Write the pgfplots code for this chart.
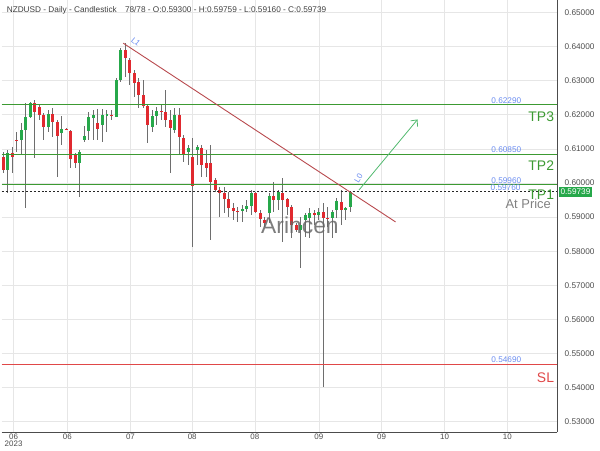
\documentclass[border=0pt]{standalone}
\usepackage{pgfplots}
\pgfplotsset{compat=1.18}
\usepackage{pgfplotstable}
\usetikzlibrary{arrows.meta}
\usepackage{fontspec}
\setmainfont{Liberation Sans}
\setsansfont{Liberation Sans}
\definecolor{cgreen}{HTML}{26A84A}
\definecolor{cred}{HTML}{E0292F}
\definecolor{tpgreen}{HTML}{3C9A32}
\definecolor{lblue}{HTML}{6A8CF0}
\definecolor{trend}{HTML}{B84A4E}
\definecolor{wick}{HTML}{6E6E6E}
\definecolor{gridc}{HTML}{E6E6E6}
\definecolor{slred}{HTML}{E04848}

\pgfplotstableread{
i o h l c
1 0.60380 0.60965 0.59708 0.60877
4 0.61257 0.61754 0.60819 0.61550
5 0.61550 0.62339 0.59269 0.61930
6 0.61930 0.62368 0.61901 0.62339
10 0.61638 0.62135 0.61491 0.62018
13 0.61462 0.61959 0.61111 0.61579
17 0.60585 0.60965 0.59591 0.60906
18 0.61257 0.61667 0.61199 0.61374
19 0.61521 0.62076 0.61257 0.61930
20 0.61901 0.62135 0.61257 0.61988
22 0.61696 0.62164 0.61199 0.61988
23 0.61988 0.62135 0.61491 0.62018
25 0.61930 0.63070 0.61930 0.63012
26 0.63012 0.63947 0.62953 0.63889
33 0.61638 0.62135 0.61491 0.61959
34 0.61959 0.62222 0.61696 0.62105
38 0.61550 0.62193 0.61462 0.61988
41 0.60906 0.61111 0.60526 0.61023
43 0.60965 0.61111 0.60526 0.61053
53 0.59181 0.59357 0.58860 0.59240
54 0.59240 0.59503 0.59152 0.59328
55 0.59328 0.59795 0.59064 0.59708
59 0.59123 0.59708 0.58830 0.59620
61 0.59503 0.59795 0.59211 0.59737
66 0.58626 0.59006 0.57515 0.58772
67 0.58918 0.59123 0.58421 0.59064
68 0.58977 0.59269 0.58392 0.59123
70 0.59064 0.59269 0.58918 0.59152
73 0.58977 0.59211 0.58392 0.59152
74 0.59211 0.59561 0.58977 0.59474
76 0.59211 0.59298 0.58918 0.59269
77 0.59300 0.59759 0.59160 0.59739
}\greens

\pgfplotstableread{
i o h l c
0 0.60760 0.60906 0.60292 0.60380
2 0.60877 0.61053 0.60292 0.60760
3 0.61257 0.61491 0.60906 0.61243
7 0.62339 0.62427 0.60731 0.62076
8 0.62222 0.62281 0.61842 0.61988
9 0.61988 0.62047 0.61257 0.61638
11 0.62018 0.62193 0.61345 0.61784
12 0.61784 0.61842 0.60176 0.61374
14 0.61579 0.61608 0.61550 0.61564
15 0.61521 0.61550 0.60439 0.60702
16 0.60819 0.60877 0.60439 0.60585
21 0.61754 0.62164 0.61257 0.61579
24 0.61988 0.62135 0.61842 0.61974
27 0.63889 0.64094 0.63100 0.63655
28 0.63597 0.63655 0.62866 0.63216
29 0.63216 0.63304 0.62515 0.62924
30 0.62953 0.63070 0.62193 0.62573
31 0.62573 0.63012 0.62193 0.62252
32 0.62252 0.62281 0.61170 0.61696
35 0.62105 0.62281 0.61842 0.62091
36 0.62076 0.62719 0.61638 0.61842
37 0.61842 0.62135 0.60292 0.61608
39 0.61988 0.62193 0.60819 0.61345
40 0.61316 0.61404 0.60614 0.60819
42 0.60760 0.61316 0.58129 0.59912
44 0.61023 0.61111 0.60176 0.60526
45 0.60585 0.60965 0.60176 0.60439
46 0.60585 0.61111 0.58333 0.60029
47 0.60088 0.60146 0.59737 0.59795
48 0.59795 0.59883 0.59006 0.59708
49 0.59708 0.59883 0.59123 0.59532
50 0.59532 0.59737 0.59006 0.59269
51 0.59269 0.59415 0.58918 0.59181
52 0.59181 0.59298 0.58860 0.59167
56 0.59708 0.59737 0.59123 0.59152
57 0.59123 0.59211 0.58713 0.58947
58 0.58918 0.59006 0.58713 0.58830
60 0.59620 0.60029 0.59152 0.59503
62 0.59708 0.60146 0.58275 0.59503
63 0.59532 0.59561 0.59064 0.59298
64 0.59298 0.59357 0.58392 0.58772
65 0.58772 0.58830 0.58567 0.58626
69 0.59123 0.59211 0.58772 0.59064
71 0.59152 0.59415 0.54006 0.58977
72 0.58977 0.59298 0.58713 0.58962
75 0.59444 0.59795 0.58772 0.59211
}\reds

\begin{document}
\begin{tikzpicture}
\begin{axis}[name=ax, at={(0,0)}, anchor=north west,
  scale only axis, width=557bp, height=433bp,
  xmin=-0.376, xmax=122.85, ymin=0.5269, ymax=0.65351,
  axis x line*=bottom, axis y line*=right,
  axis line style={-, draw=black!70, line width=1bp},
  xtick={2.28,14.2,28.2,41.9,55.8,70.0,83.9,97.9,111.8},
  xticklabels={{06\\2023},06,07,08,08,09,09,10,10},
  xticklabel style={align=center, font=\fontsize{8}{7.5}\selectfont, text=black!70, yshift=2bp},
  ytick={0.53,0.54,0.55,0.56,0.57,0.58,0.59,0.60,0.61,0.62,0.63,0.64,0.65},
  scaled y ticks=false,
  y tick label style={font=\fontsize{8.3}{8}\selectfont, text=black!70, xshift=4bp,
    /pgf/number format/.cd, fixed, fixed zerofill, precision=5, assume math mode=true},
  grid=major, grid style={gridc, line width=0.6bp},
  tick style={draw=none},
  clip=false,
]
% wicks
\addplot[draw=none, mark=none, error bars/.cd, y dir=both, y explicit, error mark=none,
  error bar style={line width=1bp, draw=wick}]
  table[x=i, y expr={(\thisrow{h}+\thisrow{l})/2}, y error expr={(\thisrow{h}-\thisrow{l})/2}] \greens;
\addplot[draw=none, mark=none, error bars/.cd, y dir=both, y explicit, error mark=none,
  error bar style={line width=1bp, draw=wick}]
  table[x=i, y expr={(\thisrow{h}+\thisrow{l})/2}, y error expr={(\thisrow{h}-\thisrow{l})/2}] \reds;
% bodies
\addplot[draw=none, mark=none, error bars/.cd, y dir=both, y explicit, error mark=none,
  error bar style={line width=3bp, draw=cgreen}]
  table[x=i, y expr={(\thisrow{o}+\thisrow{c})/2}, y error expr={abs(\thisrow{o}-\thisrow{c})/2}] \greens;
\addplot[draw=none, mark=none, error bars/.cd, y dir=both, y explicit, error mark=none,
  error bar style={line width=3bp, draw=cred}]
  table[x=i, y expr={(\thisrow{o}+\thisrow{c})/2}, y error expr={abs(\thisrow{o}-\thisrow{c})/2}] \reds;

% levels
\addplot[tpgreen, line width=1bp] coordinates {(-0.376,0.6229) (122.85,0.6229)};
\addplot[tpgreen, line width=1bp] coordinates {(-0.376,0.6085) (122.85,0.6085)};
\addplot[tpgreen, line width=1bp] coordinates {(-0.376,0.5996) (122.85,0.5996)};
\addplot[black!85, line width=1bp, dash pattern=on 2bp off 2bp] coordinates {(-0.376,0.5976) (122.85,0.5976)};
\addplot[slred, line width=1bp] coordinates {(-0.376,0.5469) (122.85,0.5469)};

% trendline and arrow
\addplot[trend, line width=0.9bp] coordinates {(26.6,0.6410) (87,0.5886)};
\addplot[cgreen!80!white, line width=0.8bp, -{Straight Barb[length=5bp,width=9bp]}] coordinates {(78.9,0.59795) (91.9,0.61864)};

% labels
\node[anchor=south west, text=lblue, font=\fontsize{8.3}{8}\selectfont, inner sep=1bp] at (axis cs:108,0.6229) {0.62290};
\node[anchor=south west, text=lblue, font=\fontsize{8.3}{8}\selectfont, inner sep=1bp] at (axis cs:108,0.6085) {0.60850};
\node[anchor=south west, text=lblue, font=\fontsize{8.3}{8}\selectfont, inner sep=1bp] at (axis cs:108,0.5996) {0.59960};
\node[anchor=south west, text=lblue, font=\fontsize{8.3}{8}\selectfont, inner sep=0.3bp] at (axis cs:108,0.5976) {0.59760};
\node[anchor=south west, text=lblue, font=\fontsize{8.3}{8}\selectfont, inner sep=1bp] at (axis cs:108,0.5469) {0.54690};
\node[anchor=east, text=tpgreen, font=\fontsize{14}{14}\selectfont, inner sep=0] at (axis cs:122.2,0.6193) {TP3};
\node[anchor=east, text=tpgreen, font=\fontsize{14}{14}\selectfont, inner sep=0] at (axis cs:122.2,0.6050) {TP2};
\node[anchor=east, text=tpgreen, font=\fontsize{14}{14}\selectfont, inner sep=0] at (axis cs:122.2,0.5965) {TP1};
\node[anchor=east, text=black!50, font=\fontsize{13}{13}\selectfont, inner sep=0] at (axis cs:121.5,0.5939) {At Price};
\node[anchor=east, text=slred, font=\fontsize{14}{14}\selectfont, inner sep=0] at (axis cs:122.2,0.5430) {SL};
\node[text=lblue, rotate=-40, font=\fontsize{8}{8}\selectfont, inner sep=0] at (axis cs:29.4,0.6414) {L1};
\node[text=lblue, rotate=60, font=\fontsize{8}{8}\selectfont, inner sep=0] at (axis cs:78.8,0.6015) {L0};
\node[text=black!60, opacity=0.85, font=\fontsize{23}{23}\selectfont, inner sep=0] at (axis cs:65.8,0.5877) {Arincen};
\node[anchor=west, fill=cgreen, text=white, font=\fontsize{8.3}{8}\selectfont, inner sep=1.8bp, xshift=1.5bp] at (axis cs:122.85,0.59739) {0.59739};
\node[anchor=north west, text=black!75, font=\fontsize{8.3}{9}\selectfont, inner sep=0, xshift=5bp, yshift=-6bp] at (rel axis cs:0,1) {NZDUSD - Daily - Candlestick\quad 78/78 - O:0.59300 - H:0.59759 - L:0.59160 - C:0.59739};
\end{axis}
\path[use as bounding box] (0,0) rectangle (600bp,-450bp);
\end{tikzpicture}
\end{document}
